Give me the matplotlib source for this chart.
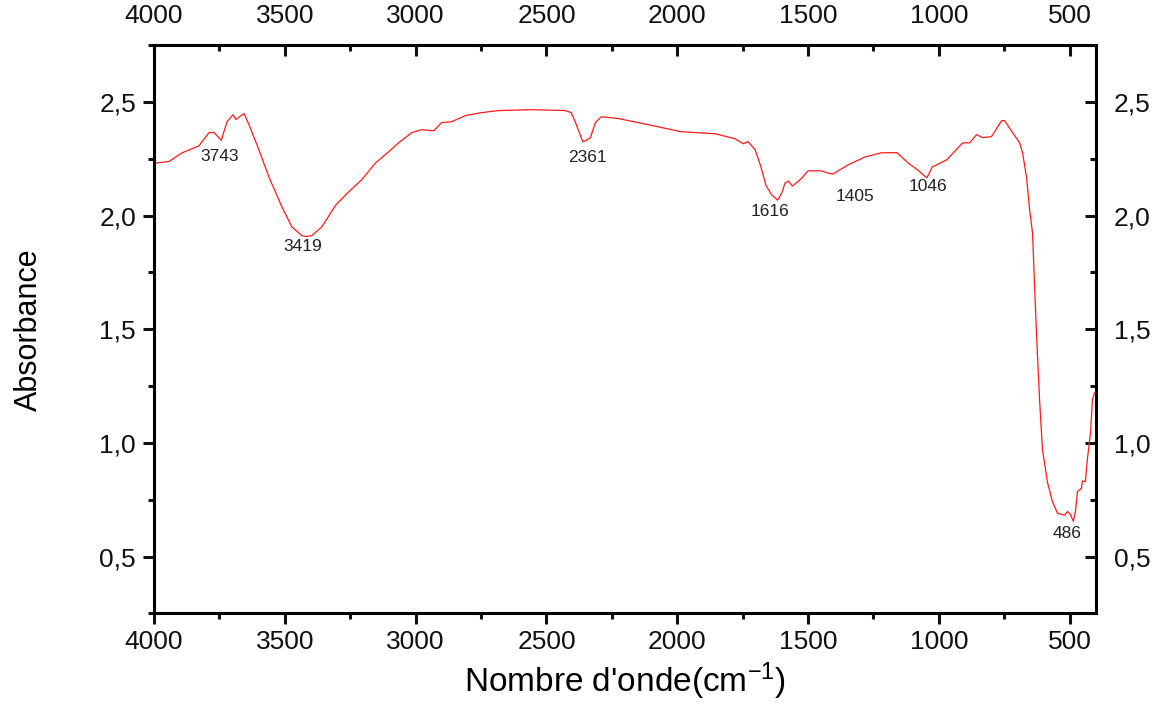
import numpy as np
import matplotlib.pyplot as plt
from matplotlib.ticker import MultipleLocator, FuncFormatter

plt.rcParams['font.family'] = ['Liberation Sans', 'DejaVu Sans']

# FTIR spectrum, wavenumber (cm-1) vs absorbance
wavenumber = [4000, 3943, 3893, 3828, 3790, 3771, 3743, 3721, 3698, 3687, 3656,
              3637, 3599, 3561, 3511, 3473, 3435, 3419, 3397, 3359, 3305, 3256,
              3206, 3153, 3103, 3065, 3015, 2977, 2931, 2901, 2863, 2809, 2748,
              2683, 2557, 2428, 2405, 2389, 2361, 2351, 2332, 2313, 2290, 2225,
              2111, 1985, 1855, 1779, 1748, 1729, 1702, 1680, 1660, 1638, 1616,
              1600, 1588, 1575, 1560, 1527, 1500, 1450, 1420, 1405, 1347, 1282,
              1221, 1160, 1118, 1080, 1046, 1025, 970, 909, 882, 856, 833, 799,
              760, 749, 718, 691, 680, 665, 653, 642, 627, 615, 604, 585, 566,
              546, 520, 508, 497, 486, 478, 470, 455, 451, 440, 432, 420, 413, 405]
absorbance = [2.23, 2.238, 2.276, 2.307, 2.365, 2.366, 2.331, 2.413, 2.444, 2.423,
              2.449, 2.40, 2.289, 2.17, 2.038, 1.95, 1.912, 1.908, 1.912, 1.95,
              2.047, 2.104, 2.158, 2.232, 2.281, 2.32, 2.365, 2.378, 2.373, 2.409,
              2.413, 2.44, 2.453, 2.462, 2.466, 2.462, 2.453, 2.409, 2.325, 2.329,
              2.343, 2.409, 2.435, 2.427, 2.40, 2.369, 2.36, 2.338, 2.316, 2.325,
              2.289, 2.214, 2.13, 2.09, 2.068, 2.10, 2.143, 2.152, 2.13, 2.161,
              2.197, 2.197, 2.186, 2.183, 2.223, 2.258, 2.276, 2.277, 2.232, 2.2,
              2.166, 2.214, 2.245, 2.32, 2.32, 2.356, 2.343, 2.347, 2.418, 2.418,
              2.365, 2.32, 2.276, 2.17, 2.025, 1.925, 1.485, 1.19, 0.972, 0.828,
              0.742, 0.69, 0.682, 0.698, 0.685, 0.655, 0.698, 0.786, 0.799, 0.833,
              0.829, 0.93, 1.047, 1.19, 1.22]

# peak labels: text, x, y
peak_labels = ['3743', '3419', '2361', '1616', '1405', '1046', '486']
peak_x = [3748, 3430, 2345, 1645, 1320, 1041, 508]
peak_y = [2.258, 1.862, 2.254, 2.016, 2.082, 2.126, 0.60]

fig = plt.figure(figsize=(11.67, 7.05), dpi=100)
ax = fig.add_axes([0.132, 0.130, 0.807, 0.806])

ax.plot(wavenumber, absorbance, color='#ff1a1a', lw=0.9)

for t, x, y in zip(peak_labels, peak_x, peak_y):
    ax.text(x, y, t, ha='center', va='center', fontsize=12.5, color='#222222')

ax.set_xlim(4000, 400)
ax.set_ylim(0.25, 2.75)

ax.xaxis.set_major_locator(MultipleLocator(500))
ax.xaxis.set_minor_locator(MultipleLocator(250))
ax.yaxis.set_major_locator(MultipleLocator(0.5))
ax.yaxis.set_minor_locator(MultipleLocator(0.25))
ax.yaxis.set_major_formatter(FuncFormatter(lambda v, p: ('%.1f' % v).replace('.', ',')))

for s in ax.spines.values():
    s.set_linewidth(2.2)

ax.tick_params(axis='both', which='both', width=2.2, labelsize=19, colors='#111111')
ax.tick_params(which='major', length=8)
ax.tick_params(which='minor', length=4)
ax.tick_params(axis='x', which='both', top=True, labeltop=True)
ax.tick_params(axis='y', which='both', right=True, labelright=True)
ax.tick_params(axis='x', which='both', direction='out', pad=4)
ax.tick_params(axis='y', which='both', direction='out', pad=5)

# ticks on the top and right axes point inward
for t in ax.xaxis.get_major_ticks() + ax.xaxis.get_minor_ticks():
    t.tick2line.set_marker(3)
for t in ax.yaxis.get_major_ticks() + ax.yaxis.get_minor_ticks():
    t.tick2line.set_marker(0)

ax.set_xlabel("Nombre d'onde(cm$\\mathregular{^{-1}}$)", fontsize=24, labelpad=5)
ax.set_ylabel('Absorbance', fontsize=22, labelpad=40)

fig.savefig('out.png', dpi=100)
